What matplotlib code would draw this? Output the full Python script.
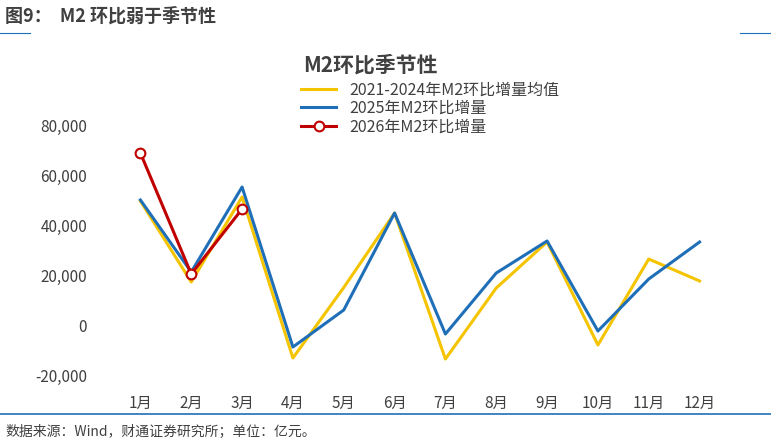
import matplotlib
matplotlib.use('Agg')
import matplotlib.pyplot as plt

plt.rcParams['font.family'] = ['Noto Sans CJK SC', 'DejaVu Sans']

months = [f'{i}月' for i in range(1, 13)]
avg_2124 = [49600, 17200, 51200, -13200, 15000, 44800, -13600, 14800, 33200, -8000, 26400, 17600]
y2025 = [50000, 21200, 55200, -8800, 6000, 44800, -3600, 20800, 33600, -2400, 18400, 33200]
y2026 = [68800, 20400, 46400]

fig = plt.figure(figsize=(7.71, 4.45), dpi=100)
ax = fig.add_axes([115 / 771, (445 - 375) / 445, (725 - 115) / 771, (375 - 125) / 445])

x = list(range(12))
ax.plot(x, avg_2124, color='#f5c400', linewidth=2.2, label='2021-2024年M2环比增量均值')
ax.plot(x, y2025, color='#1f6fb8', linewidth=2.2, label='2025年M2环比增量')
ax.plot(x[:3], y2026, color='#c00000', linewidth=2.2, marker='o', markersize=7,
        markerfacecolor='white', markeredgecolor='#c00000', markeredgewidth=1.5,
        label='2026年M2环比增量')

ax.set_ylim(-20000, 80000)
ax.set_yticks(range(-20000, 80001, 20000))
ax.set_yticklabels([f'{v:,}' for v in range(-20000, 80001, 20000)])
ax.set_xlim(-0.5, 11.5)
ax.set_xticks(x)
ax.set_xticklabels(months)
ax.tick_params(length=0, labelsize=11, colors='#404040')
ax.tick_params(axis='x', pad=14)
ax.tick_params(axis='y', pad=20)
for s in ax.spines.values():
    s.set_visible(False)

ax.legend(loc='upper left', bbox_to_anchor=(0.295, 1.2), frameon=False, fontsize=11.5,
          handlelength=2.2, labelspacing=0.1, borderaxespad=0, labelcolor='#404040')

fig.text(370 / 771, 1 - 65 / 445, 'M2环比季节性', ha='center', va='center', fontsize=15,
         fontweight='bold', color='#404040')
fig.text(5 / 771, 1 - 16 / 445, '图9：  M2 环比弱于季节性', ha='left', va='center', fontsize=13,
         fontweight='bold', color='#404040')
fig.text(5 / 771, 1 - 432 / 445, '数据来源：Wind，财通证券研究所；单位：亿元。', ha='left', va='center', fontsize=10, color='#404040')

fig.add_artist(plt.Line2D([0, 30 / 771], [1 - 33 / 445] * 2, color='#1f6fb8', linewidth=0.8))
fig.add_artist(plt.Line2D([740 / 771, 1], [1 - 33 / 445] * 2, color='#1f6fb8', linewidth=0.8))
fig.add_artist(plt.Line2D([0, 1], [1 - 414 / 445] * 2, color='#1f6fb8', linewidth=1.2))

fig.savefig('out.png', dpi=100)
